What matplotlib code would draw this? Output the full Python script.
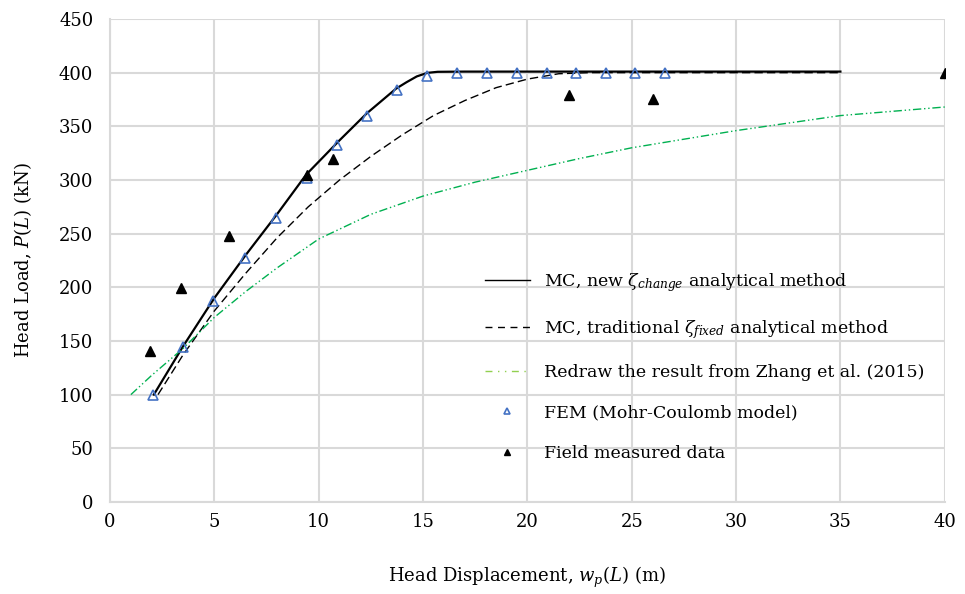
import numpy as np
import matplotlib.pyplot as plt
from matplotlib.lines import Line2D

plt.rcParams['font.family'] = ['DejaVu Serif']
plt.rcParams['mathtext.fontset'] = 'dejavuserif'

# MC, new zeta_change analytical method
new_x = [2.1, 3.5, 5.0, 6.5, 8.0, 9.4, 11.0, 12.3, 13.7, 14.2, 14.7, 15.2, 15.7, 17.0, 35.0]
new_y = [100, 145, 190, 230, 268, 305, 337, 362, 385, 391, 396.5, 399.8, 400.8, 401, 401]

# MC, traditional zeta_fixed analytical method
trad_x = [2.3, 3.5, 5, 6.5, 8, 9.5, 11, 12.5, 14, 15.5, 17, 18.5, 20, 21.5, 23, 35]
trad_y = [100, 137, 178, 213, 246, 275, 300, 322, 342, 360, 374, 386, 394, 399, 400, 400]

# Zhang et al. (2015)
zhang_x = [1, 2, 3.5, 5, 6.5, 8, 10, 12.5, 15, 17.5, 20, 22.5, 25, 27.5, 30, 32.5, 35, 37.5, 40]
zhang_y = [100, 118, 143, 172, 196, 218, 245, 268, 285, 298, 309, 320, 330, 338, 346, 353, 360, 364, 368]

# FEM (Mohr-Coulomb model)
fem_x = [2.06, 3.5, 4.95, 6.47, 7.94, 9.42, 10.86, 12.3, 13.73, 15.19, 16.62, 18.08,
         19.5, 20.92, 22.34, 23.76, 25.17, 26.6]
fem_y = [100, 144, 187, 227, 265, 302, 333, 360, 384, 397, 400, 400, 400, 400, 400, 400, 400, 400]

# Field measured data
field_x = [1.9, 3.4, 5.7, 9.45, 10.7, 22.0, 26.0, 40.0]
field_y = [141, 199, 248, 305, 320, 379, 375, 400]

fig = plt.figure(figsize=(9.65, 5.94), dpi=100)
ax = fig.add_axes([0.114, 0.155, 0.865, 0.813])

green = '#00B050'
ax.plot(new_x, new_y, color='black', lw=1.6, zorder=3)
ax.plot(trad_x, trad_y, color='black', lw=1.0, dashes=(6, 3), zorder=3)
ax.plot(zhang_x, zhang_y, color=green, lw=1.0, dashes=(6, 2, 1, 2, 1, 2), zorder=3)
ax.plot(fem_x, fem_y, ls='none', marker='^', ms=7, mfc='none', mec='#4472C4', mew=1.2, zorder=4)
ax.plot(field_x, field_y, ls='none', marker='^', ms=7, color='black', zorder=5)

ax.set_xlim(0, 40)
ax.set_ylim(0, 450)
ax.set_xticks(np.arange(0, 41, 5))
ax.set_yticks(np.arange(0, 451, 50))
ax.grid(True, color='#d9d9d9', lw=1.5)
ax.set_axisbelow(True)
for s in ['top', 'right']:
    ax.spines[s].set_visible(False)
for s in ['left', 'bottom']:
    ax.spines[s].set_color('#d9d9d9')
    ax.spines[s].set_linewidth(1.5)
ax.tick_params(length=0, labelsize=13, pad=12)
ax.tick_params(axis='x', pad=8)

ax.set_xlabel('Head Displacement, $w_p(L)$ (m)', fontsize=13, labelpad=24)
ax.set_ylabel('Head Load, $P(L)$ (kN)', fontsize=13, labelpad=18)

handles = [
    Line2D([], [], color='black', lw=1.0),
    Line2D([], [], color='black', lw=1.0, dashes=(5, 4)),
    Line2D([], [], color='#92D050', lw=1.0, dashes=(5, 4, 1, 4, 1, 4)),
    Line2D([], [], ls='none', marker='^', ms=5, mfc='none', mec='#4472C4', mew=1.2),
    Line2D([], [], ls='none', marker='^', ms=5, color='black'),
]
labels = [
    r'MC, new $\zeta_{change}$ analytical method',
    r'MC, traditional $\zeta_{fixed}$ analytical method',
    'Redraw the result from Zhang et al. (2015)',
    'FEM (Mohr-Coulomb model)',
    'Field measured data',
]
ax.legend(handles, labels, loc='upper left', bbox_to_anchor=(0.43, 0.51), frameon=False,
          fontsize=12.5, handlelength=2.6, labelspacing=1.35, handletextpad=0.8)

fig.savefig('out.png', dpi=100, facecolor='white')
